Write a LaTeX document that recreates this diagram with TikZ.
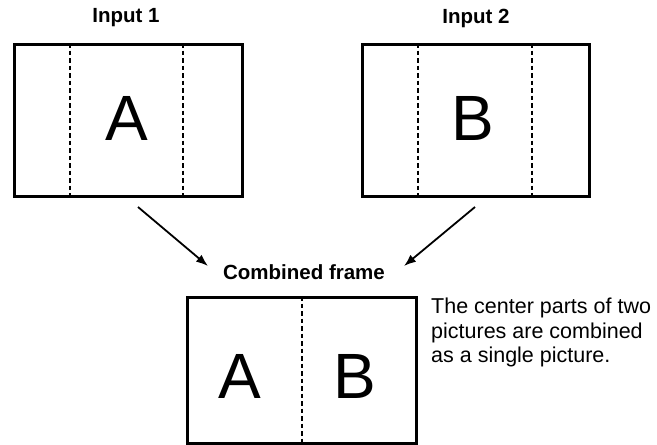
\documentclass[tikz,border=0pt]{standalone}
\usepackage{fontspec}
\setmainfont{Liberation Sans}
\usetikzlibrary{arrows.meta}
\begin{document}
\begin{tikzpicture}[x=1pt,y=-1pt,
  frame/.style={draw,line width=2.6pt,inner sep=0pt,anchor=north west},
  cut/.style={line width=1.5pt,dash pattern=on 4.5pt off 3pt},
  title/.style={font=\bfseries\fontsize{20.5}{24}\selectfont},
  big/.style={font=\fontsize{64}{64}\selectfont},
  arr/.style={line width=1.8pt,-{Latex[length=12pt,width=9pt]}}]
\useasboundingbox (0,0) rectangle (657,445);

% input frames
\node[frame,minimum width=228pt,minimum height=152pt] (in1) at (13,43) {};
\node[frame,minimum width=227pt,minimum height=152pt] (in2) at (361,43) {};
\draw[cut] (70,43) -- (70,195);
\draw[cut] (183,43) -- (183,195);
\draw[cut] (418,43) -- (418,195);
\draw[cut] (532,43) -- (532,195);
\node[big] (la) at (127,118) {A};
\node[big] (lb) at (473,118) {B};
\node[title] (t1) at (126,18) {Input 1};
\node[title] (t2) at (476,18) {Input 2};

% combined frame
\node[title] (tc) at (304,272) {Combined frame};
\node[frame,minimum width=229pt,minimum height=146pt] (out) at (186,296) {};
\draw[cut] (out.north) -- (out.south);
\node[big] (ca) at (240,376) {A};
\node[big] (cb) at (355,376) {B};

% arrows
\coordinate (s1) at (138,207);
\coordinate (s2) at (475,207);
\coordinate (e1) at (208,266);
\coordinate (e2) at (404,266);
\draw[arr] (s1) -- (e1);
\draw[arr] (s2) -- (e2);

% note
\node[anchor=north west,align=left,inner sep=0pt,
  font=\fontsize{21.5}{24.5}\selectfont] (note) at (431,298)
  {The center parts of two\\pictures are combined\\as a single picture.};
\end{tikzpicture}
\end{document}
